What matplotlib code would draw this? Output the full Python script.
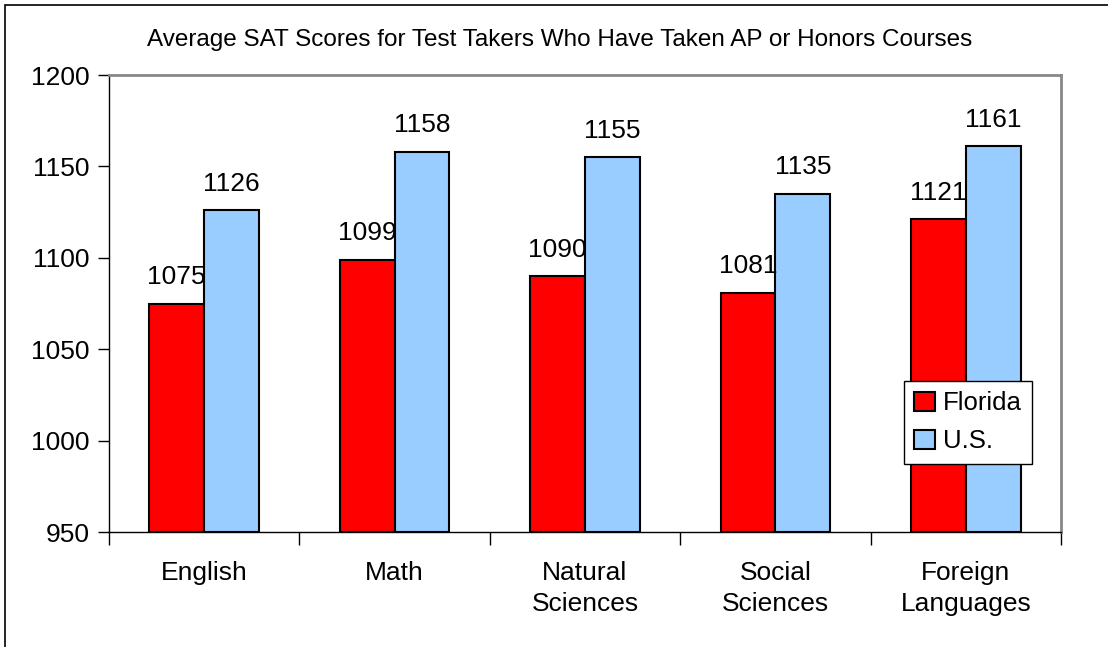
import matplotlib
matplotlib.use("Agg")
import matplotlib.pyplot as plt
from matplotlib.patches import Rectangle
import numpy as np

categories = ["English", "Math", "Natural\nSciences", "Social\nSciences", "Foreign\nLanguages"]
florida = [1075, 1099, 1090, 1081, 1121]
us = [1126, 1158, 1155, 1135, 1161]
yticks = [950, 1000, 1050, 1100, 1150, 1200]
title = "Average SAT Scores for Test Takers Who Have Taken AP or Honors Courses"

plt.rcParams['font.family'] = ['Liberation Sans', 'DejaVu Sans']

W, H = 1108, 647
fig = plt.figure(figsize=(W / 100, H / 100), dpi=100)
ax = fig.add_axes([109 / W, 1 - 532 / H, (1061 - 109) / W, (532 - 75) / H])

x = np.arange(len(categories))
bw = 0.288
ax.bar(x - bw / 2, [v - 950 for v in florida], bw, bottom=950, color="#FF0000",
       edgecolor="black", linewidth=1.5, label="Florida", zorder=3)
ax.bar(x + bw / 2, [v - 950 for v in us], bw, bottom=950, color="#99CCFF",
       edgecolor="black", linewidth=1.5, label="U.S.", zorder=3)

for xi, v in zip(x - bw / 2, florida):
    ax.annotate(str(v), (xi, v), xytext=(0, 19), textcoords="offset points",
                ha="center", va="center", fontsize=19)
for xi, v in zip(x + bw / 2, us):
    ax.annotate(str(v), (xi, v), xytext=(0, 19), textcoords="offset points",
                ha="center", va="center", fontsize=19)

ax.set_xlim(-0.5, len(categories) - 0.5)
ax.set_ylim(950, 1200)
ax.set_yticks(yticks)
ax.set_yticklabels([str(t) for t in yticks], fontsize=19)
ax.tick_params(axis="y", direction="out", length=8, width=1, pad=6)
ax.set_xticks(x)
ax.set_xticklabels(categories, fontsize=19, linespacing=1.35)
ax.tick_params(axis="x", which="major", length=0, pad=21)
ax.set_xticks(np.arange(-0.5, len(categories), 1.0), minor=True)
ax.tick_params(axis="x", which="minor", direction="out", length=9, width=1)

for s in ["left", "bottom"]:
    ax.spines[s].set_color("black")
    ax.spines[s].set_linewidth(1)
for s in ["top", "right"]:
    ax.spines[s].set_color("#888888")
    ax.spines[s].set_linewidth(2)

leg = ax.legend(loc="upper left", bbox_to_anchor=((904 - 109) / 952, (532 - 381) / 457),
                fontsize=18.5, frameon=True, fancybox=False, edgecolor="black",
                framealpha=1, facecolor="white",
                handlelength=0.8, handleheight=0.8, handletextpad=0.3,
                borderpad=0.4, labelspacing=0.55, borderaxespad=0)
leg.get_frame().set_linewidth(1)
leg.set_zorder(5)

fig.text(560 / W, 1 - 40 / H, title, ha="center", va="center", fontsize=17.5)

fig.patches.append(Rectangle((5 / W, -0.05), 1.2, 1 - 5 / H + 0.05, transform=fig.transFigure,
                             fill=False, edgecolor="black", linewidth=1.2))

fig.savefig("out.png", dpi=100)
